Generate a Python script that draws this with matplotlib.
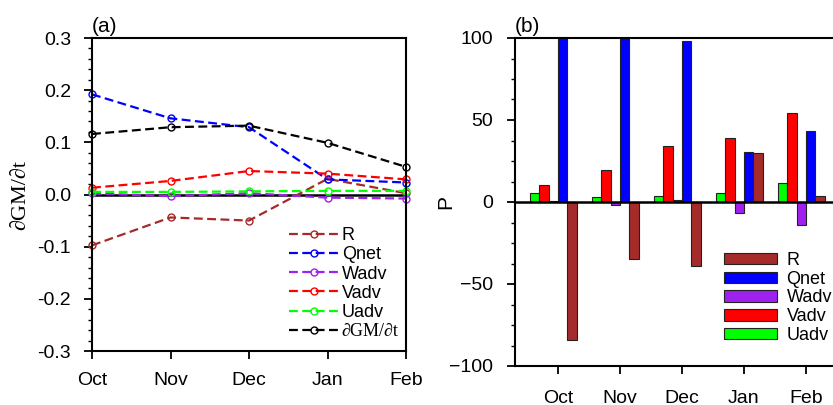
import matplotlib.pyplot as plt
import numpy as np

months = ['Oct', 'Nov', 'Dec', 'Jan', 'Feb']

# panel (a): tendency terms
r_line = [-0.0975, -0.044, -0.050, 0.030, 0.0025]
qnet_line = [0.192, 0.146, 0.129, 0.029, 0.023]
wadv_line = [0.002, -0.003, 0.0025, -0.006, -0.0077]
vadv_line = [0.013, 0.026, 0.045, 0.040, 0.029]
uadv_line = [0.005, 0.005, 0.006, 0.007, 0.007]
gm_line = [0.116, 0.129, 0.132, 0.099, 0.053]

# panel (b): percentage contributions
r_bar = [-84.0, -34.6, -39.0, 30.0, 3.9]
qnet_bar = [165.0, 113.0, 98.4, 30.3, 43.1]
wadv_bar = [0.8, -1.6, 1.4, -6.5, -14.2]
vadv_bar = [10.6, 19.7, 34.3, 39.0, 54.3]
uadv_bar = [5.7, 3.0, 3.5, 5.7, 11.6]

c_r = '#A52A2A'
c_q = '#0000FF'
c_w = '#A020F0'
c_v = '#FF0000'
c_u = '#00FF00'

plt.rcParams['font.family'] = ['Liberation Sans', 'DejaVu Sans']
serif = ['Liberation Serif', 'DejaVu Serif']

fig = plt.figure(figsize=(8.33, 4.05), dpi=100)
ax1 = fig.add_axes([92 / 833, 54 / 405, 314 / 833, 313 / 405])
ax2 = fig.add_axes([515 / 833, 39 / 405, 318 / 833, 328 / 405])

x = np.arange(len(months))

# ---- panel (a)
series = [(r_line, c_r, 'R'), (qnet_line, c_q, 'Qnet'), (wadv_line, c_w, 'Wadv'),
          (vadv_line, c_v, 'Vadv'), (uadv_line, c_u, 'Uadv'),
          (gm_line, 'black', '\u2202GM/\u2202t')]
ax1.axhline(0, color='black', lw=1.8, zorder=1)
handles = []
for vals, col, lab in series:
    h, = ax1.plot(x, vals, ls=(0, (4, 2)), color=col, lw=1.6, marker='o',
                  ms=5, mfc='none', mec=col, mew=1.0, clip_on=False, label=lab)
    handles.append(h)
ax1.set_xlim(0, 4)
ax1.set_ylim(-0.3, 0.3)
ax1.set_xticks(x)
ax1.set_xticklabels(months)
ax1.set_yticks(np.arange(-0.3, 0.31, 0.1))
ax1.set_yticklabels(['-0.3', '-0.2', '-0.1', '0.0', '0.1', '0.2', '0.3'])
ax1.set_yticks(np.arange(-0.3, 0.301, 0.02), minor=True)
ax1.tick_params(axis='both', which='major', direction='out', length=6, width=1.3,
                labelsize=14, pad=9)
ax1.tick_params(axis='y', which='minor', direction='out', length=3, width=1.0)
ax1.tick_params(axis='x', which='major', pad=9)
for s in ax1.spines.values():
    s.set_linewidth(1.5)
ax1.set_ylabel('\u2202GM/\u2202t', family=serif, fontsize=16)
ax1.yaxis.set_label_coords(-0.197, 0.5)
ax1.text(0.0, 1.005, '(a)', transform=ax1.transAxes, fontsize=15, va='bottom')
leg1 = ax1.legend(handles=handles, loc='lower right', bbox_to_anchor=(1.0, 0.012),
                  frameon=False, fontsize=13, handlelength=2.85, handletextpad=0.1,
                  labelspacing=0.12, borderaxespad=0.0)
leg1.get_texts()[-1].set_family(serif)

# ---- panel (b)
w = 0.15
bars = [(uadv_bar, c_u, 'Uadv', -2.5), (vadv_bar, c_v, 'Vadv', -1.5),
        (wadv_bar, c_w, 'Wadv', -0.5), (qnet_bar, c_q, 'Qnet', 0.5),
        (r_bar, c_r, 'R', 1.5)]
bh = {}
for vals, col, lab, off in bars:
    bh[lab] = ax2.bar(x + off * w, vals, width=w, color=col, edgecolor='#222222',
                      linewidth=0.8, label=lab, zorder=2)
ax2.axhline(0, color='black', lw=1.8, zorder=3)
ax2.set_xlim(-43 / 62, 4 + 27 / 62)
ax2.set_ylim(-100, 100)
ax2.set_xticks(x)
ax2.set_xticklabels(months)
ax2.set_yticks([-100, -50, 0, 50, 100])
ax2.set_yticks(np.arange(-100, 100.1, 12.5), minor=True)
ax2.tick_params(axis='both', which='major', direction='out', length=6, width=1.3,
                labelsize=14, pad=10)
ax2.tick_params(axis='y', which='minor', direction='out', length=3, width=1.0)
ax2.tick_params(axis='x', which='major', pad=11)
ax2.spines['right'].set_visible(False)
for s in ax2.spines.values():
    s.set_linewidth(1.5)
ax2.set_ylabel('P', fontsize=15)
ax2.yaxis.set_label_coords(-0.189, 0.5)
ax2.text(0.0, 1.005, '(b)', transform=ax2.transAxes, fontsize=15, va='bottom')
order = ['R', 'Qnet', 'Wadv', 'Vadv', 'Uadv']
ax2.legend([bh[k] for k in order], order, loc='lower left',
           bbox_to_anchor=(0.635, 0.045), frameon=False, fontsize=13,
           handlelength=2.9, handleheight=0.6, handletextpad=0.55,
           labelspacing=0.1, borderaxespad=0.0)

fig.savefig('out.png', dpi=100)
